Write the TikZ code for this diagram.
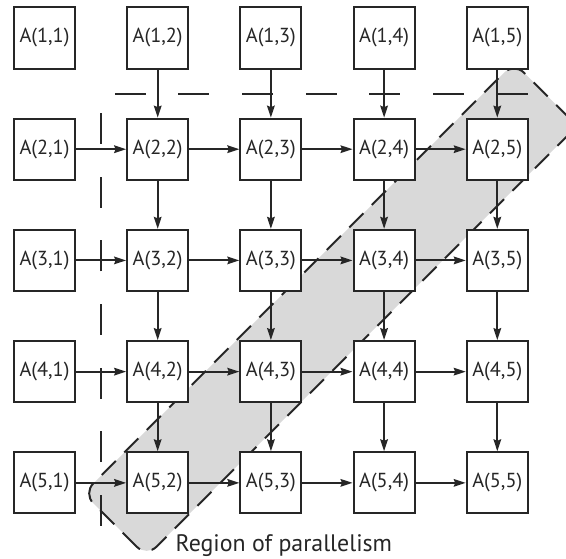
\documentclass[tikz,border=0pt]{standalone}
\usepackage{fontspec}
\setmainfont{PT Sans}
\usetikzlibrary{arrows.meta, positioning}

\tikzset{
  cell/.style={draw=black!85, line width=1pt, fill=white, minimum size=1.08cm,
    inner sep=0pt, text=black!85, font=\fontsize{10.2}{12}\selectfont},
  flow/.style={draw=black!85, line width=1pt,
    -{Stealth[length=6pt, width=3.8pt, inset=0.7pt]}},
  band/.style={fill=black!15, draw=black!85, line width=1pt,
    dash pattern=on 10pt off 6pt, rounded corners=7pt},
  split/.style={draw=black!85, line width=1pt, dash pattern=on 15.5pt off 16.5pt}
}

\begin{document}
\begin{tikzpicture}
    \useasboundingbox (-0.786,0.671) rectangle (9.214,-9.205);
    \clip (-0.786,0.671) rectangle (9.214,-9.205);

    % shaded band along the anti-diagonal
    \begin{scope}[shift={(5.05,-4.80)}, rotate=45]
        \draw[band] (-5.38,-0.79) rectangle (5.38,0.79);
    \end{scope}

    % dashed corner line
    \coordinate (s1) at (1,-8.62);
    \coordinate (s2) at (1,-0.99);
    \coordinate (s3) at (8.61,-0.99);
    \draw[split] (s1) -- (s2) -- (s3);

    % the cells
    \foreach \r in {1,...,5}
        \foreach \c in {1,...,5}
            \node[cell] (a\r\c) at ({2*(\c-1)}, {-1.965*(\r-1)}) {A(\r,\c)};

    % down arrows
    \foreach \r in {1,...,4} {
        \pgfmathtruncatemacro{\n}{\r+1}
        \foreach \c in {2,...,5}
            \draw[flow] (a\r\c) -- (a\n\c);
    }
    % right arrows
    \foreach \r in {2,...,5}
        \foreach \c in {1,...,4} {
            \pgfmathtruncatemacro{\n}{\c+1}
            \draw[flow] (a\r\c) -- (a\r\n);
        }

    \node[text=black!85, font=\fontsize{12}{14}\selectfont] (region)
        at (4.23,-8.96) {Region of parallelism};
\end{tikzpicture}
\end{document}
